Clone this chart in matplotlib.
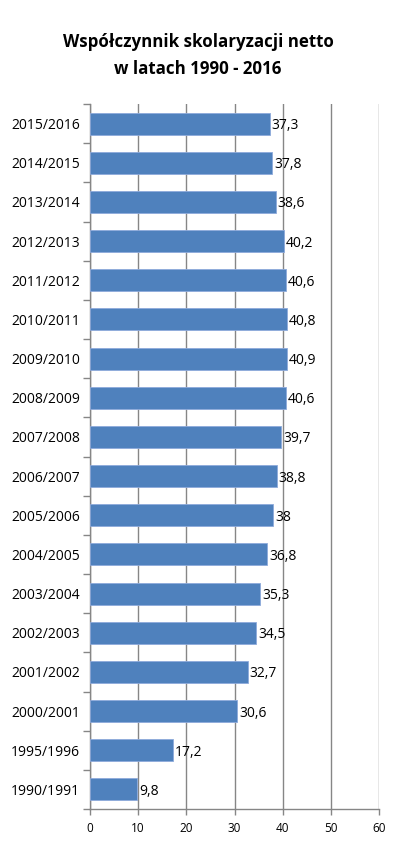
import matplotlib

matplotlib.use("Agg")
import matplotlib.pyplot as plt
import numpy as np

# Data, bottom to top as drawn
years = ["1990/1991", "1995/1996", "2000/2001", "2001/2002", "2002/2003", "2003/2004",
         "2004/2005", "2005/2006", "2006/2007", "2007/2008", "2008/2009", "2009/2010",
         "2010/2011", "2011/2012", "2012/2013", "2013/2014", "2014/2015", "2015/2016"]
rates = [9.8, 17.2, 30.6, 32.7, 34.5, 35.3, 36.8, 38.0, 38.8, 39.7, 40.6, 40.9,
         40.8, 40.6, 40.2, 38.6, 37.8, 37.3]
x_ticks = [0, 10, 20, 30, 40, 50, 60]

plt.rcParams["font.family"] = ["Open Sans", "DejaVu Sans"]

fig = plt.figure(figsize=(3.96, 8.5), dpi=100)
ax = fig.add_axes([90 / 396, 1 - 809 / 850, (379 - 90) / 396, (809 - 104) / 850])

pos = np.arange(len(years))
ax.barh(pos, rates, height=0.56, color="#4F81BD", edgecolor="#8EAADB", linewidth=0.6, zorder=3)

for y, v in zip(pos, rates):
    txt = f"{v:g}".replace(".", ",")
    ax.text(v + 0.4, y - 0.05, txt, va="center", ha="left", fontsize=10, color="black", zorder=4)

ax.set_xlim(0, 60)
ax.set_ylim(-0.5, len(years) - 0.5)
ax.set_xticks(x_ticks)
ax.set_xticklabels([str(t) for t in x_ticks], fontsize=8.5)
ax.set_yticks(pos)
ax.set_yticklabels(years, fontsize=10)
ax.set_yticks(np.arange(-0.5, len(years)), minor=True)

ax.grid(axis="x", color="#868686", linewidth=1, zorder=0)
ax.tick_params(axis="y", which="major", length=0, pad=7)
ax.tick_params(axis="y", which="minor", length=5, color="#868686", width=1)
ax.tick_params(axis="x", length=4, color="#868686", width=1, pad=5)

for side in ["top", "right"]:
    ax.spines[side].set_visible(False)
for side in ["left", "bottom"]:
    ax.spines[side].set_color("#868686")
    ax.spines[side].set_linewidth(1)

fig.text(0.5, 1 - 42 / 850, "Współczynnik skolaryzacji netto", ha="center", va="center",
         fontsize=12.2, fontweight="bold")
fig.text(0.5, 1 - 69 / 850, "w latach 1990 - 2016", ha="center", va="center",
         fontsize=12.2, fontweight="bold")

fig.savefig("out.png", dpi=100)
